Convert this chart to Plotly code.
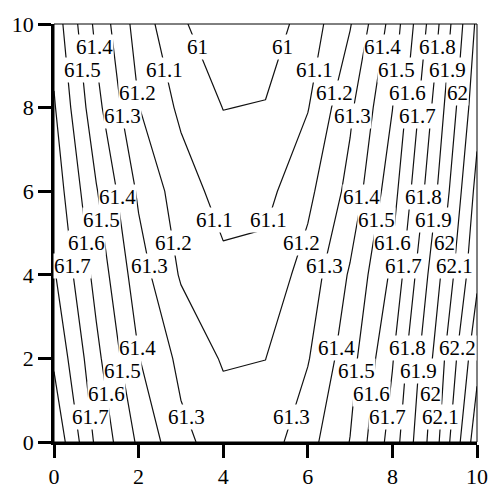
import plotly.graph_objects as go

# Grid coordinates
x_vals = [0, 1, 2, 3, 4, 5, 6, 7, 8, 9, 10]
y_vals = [0, 2, 4, 6, 8, 10]

# Field values, one row per y
z_y0 = [61.98, 61.68, 61.483, 61.325, 61.255, 61.25, 61.364, 61.503, 61.746, 62.057, 62.46]
z_y2 = [61.885, 61.626, 61.404, 61.275, 61.19, 61.199, 61.293, 61.46, 61.692, 62.018, 62.37]
z_y4 = [61.81, 61.567, 61.345, 61.19, 61.126, 61.135, 61.241, 61.412, 61.62, 61.954, 62.28]
z_y6 = [61.76, 61.507, 61.284, 61.148, 61.062, 61.071, 61.174, 61.332, 61.559, 61.88, 62.23]
z_y8 = [61.71, 61.432, 61.203, 61.08, 60.998, 61.006, 61.095, 61.282, 61.498, 61.824, 62.167]
z_y10 = [61.66, 61.374, 61.155, 61.013, 60.935, 60.942, 61.044, 61.193, 61.438, 61.763, 62.12]

z_grid = [z_y0, z_y2, z_y4, z_y6, z_y8, z_y10]

# Contour levels
level_start = 61.0
level_end = 62.4
level_step = 0.1
n_levels = int(round((level_end - level_start) / level_step)) + 1
levels = [round(level_start + k * level_step, 1) for k in range(n_levels)]

font_family = "Liberation Serif, Times New Roman, serif"
label_size = 21


def row_at(y):
    """Field values along the horizontal line at height y (linear in y)."""
    for j in range(len(y_vals) - 1):
        if y_vals[j] <= y <= y_vals[j + 1]:
            t = (y - y_vals[j]) / (y_vals[j + 1] - y_vals[j])
            return [a * (1 - t) + b * t for a, b in zip(z_grid[j], z_grid[j + 1])]
    return None


def crossings(level, y):
    """x positions where the field equals `level` along the line at height y."""
    row = row_at(y)
    out = []
    for c in range(len(x_vals) - 1):
        z0, z1 = row[c], row[c + 1]
        if (z0 - level) * (z1 - level) < 0:
            out.append(x_vals[c] + (level - z0) / (z1 - z0) * (x_vals[c + 1] - x_vals[c]))
    return out


def label_text(level):
    s = f"{level:.1f}"
    return s[:-2] if s.endswith(".0") else s


# Horizontal contour labels, staggered in height so neighbours don't collide
label_annotations = []
for i, lev in enumerate(levels):
    top = 9.45 - 0.55 * (i % 4)
    for y_lab in (top, top - 3.6, top - 7.2):
        if y_lab < 0.25:
            continue
        for x_lab in crossings(lev, y_lab):
            if x_lab < 0.4 or x_lab > 9.6:
                continue
            label_annotations.append(
                dict(
                    x=x_lab,
                    y=y_lab,
                    xref="x",
                    yref="y",
                    text=label_text(lev),
                    showarrow=False,
                    bgcolor="white",
                    borderpad=0,
                    font=dict(family=font_family, size=label_size, color="black"),
                )
            )

fig = go.Figure(
    go.Contour(
        x=x_vals,
        y=y_vals,
        z=z_grid,
        contours=dict(
            coloring="none",
            start=level_start,
            end=level_end,
            size=level_step,
            showlabels=False,
        ),
        line=dict(color="#111111", width=1.2, smoothing=0),
        showscale=False,
        hoverinfo="skip",
    )
)

axis_common = dict(
    range=[0, 10],
    dtick=2,
    showgrid=False,
    zeroline=False,
    showline=True,
    linecolor="black",
    linewidth=2.5,
    ticks="outside",
    ticklen=13,
    tickwidth=2.5,
    tickcolor="black",
    tickfont=dict(family=font_family, size=22, color="black"),
)

fig.update_layout(
    width=500,
    height=501,
    margin=dict(l=50, r=14, t=20, b=43),
    paper_bgcolor="white",
    plot_bgcolor="white",
    xaxis=axis_common,
    yaxis=axis_common,
    showlegend=False,
    annotations=label_annotations,
    shapes=[
        dict(
            type="rect",
            xref="paper",
            yref="paper",
            x0=0,
            y0=0,
            x1=1,
            y1=1,
            line=dict(color="black", width=1),
            layer="above",
        )
    ],
)

fig.write_html("out.html")
